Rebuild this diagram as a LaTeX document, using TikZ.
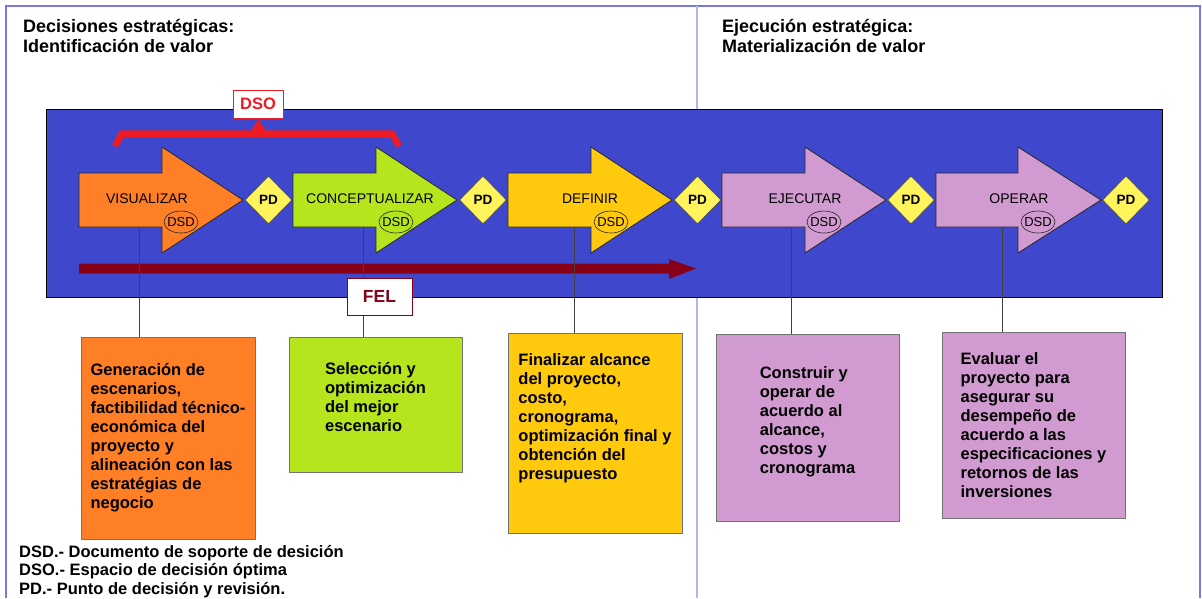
\documentclass[tikz,border=0pt]{standalone}
\usepackage{fontspec}
\setmainfont{Liberation Sans}
\usetikzlibrary{shapes.geometric}
\definecolor{fondo}{HTML}{3F48CC}
\definecolor{marco}{HTML}{7878E0}
\definecolor{divisor}{HTML}{B4B4EC}
\definecolor{naranja}{HTML}{FF7F27}
\definecolor{verde}{HTML}{B5E61D}
\definecolor{oro}{HTML}{FFC90E}
\definecolor{lila}{HTML}{D19AD0}
\definecolor{amarillo}{HTML}{FFF45C}
\definecolor{rojo}{HTML}{ED1C24}
\definecolor{guinda}{HTML}{880015}

\begin{document}
\begin{tikzpicture}[x=1pt,y=-1pt,
    stagearrow/.style={draw=black!85,line width=0.8pt},
    stagetext/.style={font=\fontsize{14}{16}\selectfont,inner sep=0pt},
    pdmark/.style={diamond,aspect=1,draw=black!70,line width=0.6pt,fill=amarillo,
        minimum width=47,minimum height=48,inner sep=0pt,font=\fontsize{13.5}{16}\selectfont\bfseries},
    dsdmark/.style={ellipse,draw=black!85,line width=0.6pt,minimum width=34,minimum height=22,
        inner sep=0pt,font=\fontsize{13}{15}\selectfont},
    infobox/.style={draw=black!55,line width=1pt,align=left,inner sep=0pt,
        font=\fontsize{16.5}{19}\selectfont\bfseries},
    tagbox/.style={fill=white,line width=1pt,inner sep=0pt,font=\bfseries},
    link/.style={draw=black!75,line width=0.9pt},
    headtext/.style={anchor=north west,align=left,inner sep=0pt,font=\fontsize{18}{20}\selectfont\bfseries},
    legendtext/.style={anchor=north west,align=left,inner sep=0pt,font=\fontsize{16.5}{18.5}\selectfont\bfseries}]
    \useasboundingbox (0,0) rectangle (1202,598);
    % marco y division
    \draw[marco,line width=1.5pt] (6,598)--(6,6)--(1200,6)--(1200,598);
    \draw[divisor,line width=1.5pt] (697,6)--(697,598);
    \filldraw[fill=fondo,draw=black,line width=1pt] (46,109) rectangle (1162,297);
    % DSO
    \draw[rojo,line width=6.5pt] (115,146)--(122,133.5)--(392,133.5)--(399,146);
    \fill[rojo] (251,131)--(258.5,119.5)--(266,131)--cycle;
    \node[tagbox,draw=rojo,text=rojo,minimum width=50,minimum height=28,font=\fontsize{16.5}{18}\selectfont\bfseries] (dso) at (258,104) {DSO};
    % flechas de etapas
    \draw[stagearrow,fill=naranja] (79,173)--(162,173)--(162,147)--(243,200)--(162,253)--(162,227)--(79,227)--cycle;
    \draw[stagearrow,fill=verde] (293,173)--(376,173)--(376,147)--(457,200)--(376,253)--(376,227)--(293,227)--cycle;
    \draw[stagearrow,fill=oro] (508,173)--(591,173)--(591,147)--(672,200)--(591,253)--(591,227)--(508,227)--cycle;
    \draw[stagearrow,fill=lila] (722,173)--(805,173)--(805,147)--(886,200)--(805,253)--(805,227)--(722,227)--cycle;
    \draw[stagearrow,fill=lila] (936,173)--(1018,173)--(1018,147)--(1101,200)--(1018,253)--(1018,227)--(936,227)--cycle;
    \node[stagetext] (tvis) at (147,199) {VISUALIZAR};
    \node[stagetext] (tcon) at (370,199) {CONCEPTUALIZAR};
    \node[stagetext] (tdef) at (590,199) {DEFINIR};
    \node[stagetext] (teje) at (805,199) {EJECUTAR};
    \node[stagetext] (tope) at (1019,199) {OPERAR};
    \node[dsdmark] (dvis) at (181,222) {\makebox[0pt]{DSD}};
    \node[dsdmark] (dcon) at (396,222) {\makebox[0pt]{DSD}};
    \node[dsdmark] (ddef) at (611,222) {\makebox[0pt]{DSD}};
    \node[dsdmark] (deje) at (824,222) {\makebox[0pt]{DSD}};
    \node[dsdmark] (dope) at (1038,222) {\makebox[0pt]{DSD}};
    \node[pdmark] (pd1) at (268.5,200) {PD};
    \node[pdmark] (pd2) at (483,200) {PD};
    \node[pdmark] (pd3) at (697.5,200) {PD};
    \node[pdmark] (pd4) at (911,200) {PD};
    \node[pdmark] (pd5) at (1126,200) {PD};
    % FEL
    \fill[guinda] (79,263.5)--(669,263.5)--(669,259)--(696,268.5)--(669,279)--(669,273.5)--(79,273.5)--cycle;
    % cuadros de descripcion
    \node[infobox,fill=naranja,minimum width=174,minimum height=202] (gvis) at (168,438)
        {Generación de\\escenarios,\\factibilidad técnico-\\económica del\\proyecto y\\alineación con las\\estratégias de\\negocio};
    \node[infobox,fill=verde,minimum width=173,minimum height=135] (gcon) at (375.5,404.5)
        {Selección y\\optimización\\del mejor\\escenario\\[-3pt]\mbox{}};
    \node[infobox,fill=oro,minimum width=174,minimum height=200] (gdef) at (595,433)
        {Finalizar alcance\\del proyecto,\\costo,\\cronograma,\\optimización final y\\obtención del\\presupuesto\\[13pt]\mbox{}};
    \node[infobox,fill=lila,minimum width=183,minimum height=187] (geje) at (807.5,427.5)
        {Construir y\\operar de\\acuerdo al\\alcance,\\costos y\\cronograma\\[-5pt]\mbox{}};
    \node[infobox,fill=lila,minimum width=183,minimum height=186] (gope) at (1033.5,425)
        {Evaluar el\\proyecto para\\asegurar su\\desempeño de\\acuerdo a las\\especificaciones y\\retornos de las\\inversiones};
    \coordinate (cvis) at (139,227);
    \coordinate (ccon) at (363,227);
    \coordinate (cdef) at (574,227);
    \coordinate (ceje) at (791,227);
    \coordinate (cope) at (1002,227);
    \draw[link] (cvis)--(cvis |- gvis.north);
    \draw[link] (ccon)--(ccon |- gcon.north);
    \draw[link] (cdef)--(cdef |- gdef.north);
    \draw[link] (ceje)--(ceje |- geje.north);
    \draw[link] (cope)--(cope |- gope.north);
    \node[tagbox,draw=guinda,text=guinda,minimum width=65,minimum height=37,font=\fontsize{17.5}{19}\selectfont\bfseries] (fel) at (379.5,296.5) {FEL};
    % textos
    \node[headtext] (hdec) at (23,19) {Decisiones estratégicas:\\Identificación de valor};
    \node[headtext] (heje) at (722,19) {Ejecución estratégica:\\Materialización de valor};
    \node[legendtext] (ley) at (19,545) {DSD.- Documento de soporte de desición\\DSO.- Espacio de decisión óptima\\PD.- Punto de decisión y revisión.};
\end{tikzpicture}
\end{document}
